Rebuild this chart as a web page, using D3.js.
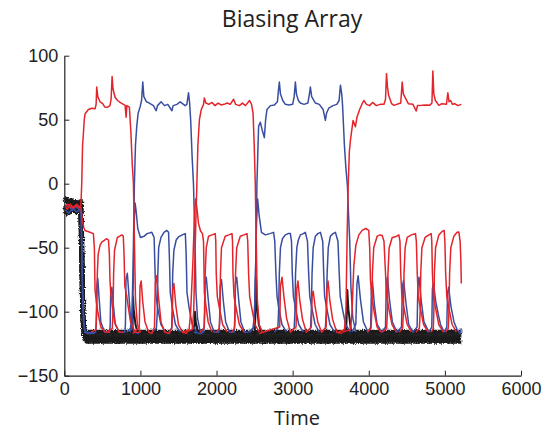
<!DOCTYPE html>
<html>
<head>
<meta charset="utf-8">
<script src="https://d3js.org/d3.v7.min.js"></script>
<style>
  html, body { margin: 0; padding: 0; background: #fff; }
  svg { display: block; }
</style>
</head>
<body>
<svg id="chart" width="552" height="433"></svg>
<script>
// Axis ticks
const xTicks = [0, 1000, 2000, 3000, 4000, 5000, 6000];
const yTicks = [-150, -100, -50, 0, 50, 100];

// Red units: winners (high state) and the cycling losers, [time, value]
const redTraces = [
  // winner, first epoch
  [[0,-17],[40,-20],[80,-16],[120,-19],[160,-16],[200,-18],[218,-17],[229,0],[240,30],[251,39],[262,50],[273,54.6],[317,58],[360,59],[405,58.6],[418,62],[426,75.5],[440,68],[470,64],[505,62.5],[530,60],[570,59.8],[600,61],[615,66],[628,83.8],[640,74],[667,67.5],[700,65],[733,63.6],[799,61.2],[812,52],[822,61],[855,59.8],[875,40],[893,15],[908,0],[920,-40],[935,-90],[960,-110],[1000,-116]],
  // winner, third epoch
  [[1600,-116],[1680,-114],[1700,-100],[1715,-60],[1730,-25],[1742,0],[1755,30],[1775,50],[1800,58],[1829,62],[1840,67],[1860,63],[1900,62],[1940,63.5],[1980,61],[2020,63],[2060,61.5],[2100,62],[2140,63],[2180,62],[2224,66],[2250,62],[2300,61],[2340,63],[2380,61],[2434,65],[2460,62],[2480,55],[2495,30],[2509,0],[2520,-40],[2535,-90],[2560,-110],[2600,-116]],
  // winner, fifth epoch
  [[3600,-116],[3680,-114],[3700,-100],[3716,-40],[3730,0],[3745,25],[3759,33.8],[3794,49.4],[3825,44.5],[3845,52],[3880,58],[3913,62.5],[3935,65],[3970,62],[4010,61],[4050,63.5],[4100,61],[4150,62],[4200,62],[4220,66],[4233,85.9],[4245,76],[4260,69.3],[4300,62.5],[4330,61.2],[4420,63],[4439,79.4],[4455,70],[4480,67],[4520,62.5],[4580,62],[4623,56.8],[4640,61],[4700,61.2],[4760,61.5],[4800,61.2],[4830,63],[4842,88],[4855,70],[4875,65],[4921,61.2],[4960,62.5],[5020,62],[5039,71],[5055,64],[5075,65],[5100,62],[5130,62.5],[5170,61],[5216,62]],
  // losers, first epoch
  [[0,-18],[50,-16],[100,-19],[150,-17],[200,-19],[218,-18],[235,-28],[255,-34],[272,-36.5],[320,-37.5],[382,-39],[395,-50],[404,-83],[420,-92],[440,-100],[480,-112],[540,-116],[600,-116]],
  [[350,-116],[415,-114],[425,-100],[434,-70],[445,-55],[470,-48],[492,-45.6],[530,-44],[558,-43],[580,-44],[592,-55],[600,-75],[610,-85],[630,-95],[660,-108],[720,-116],[780,-116]],
  [[560,-116],[630,-113],[640,-100],[648,-70],[660,-52],[697,-42],[730,-41],[755,-40],[775,-41],[785,-55],[795,-80],[821,-88],[840,-96],[870,-108],[930,-116],[1000,-116]],
  // small responses, second epoch
  [[900,-117],[985,-112],[995,-80],[1010,-76],[1030,-92],[1060,-108],[1110,-116],[1150,-117],[1185,-112],[1195,-78],[1210,-72],[1240,-90],[1270,-108],[1320,-116],[1380,-117],[1415,-112],[1425,-82],[1440,-78],[1465,-95],[1500,-110],[1550,-116],[1620,-117]],
  // losers, third epoch
  [[1550,-116],[1640,-114],[1660,-100],[1690,-60],[1710,-25],[1725,-12],[1740,-18],[1763,-31],[1790,-37],[1815,-39],[1829,-45],[1840,-85],[1860,-95],[1890,-108],[1940,-116]],
  [[1780,-116],[1835,-113],[1845,-100],[1851,-70],[1865,-50],[1895,-41],[1940,-40],[1983,-39],[1990,-45],[1996,-70],[2010,-88],[2040,-98],[2080,-110],[2140,-116]],
  [[2000,-116],[2035,-113],[2045,-100],[2052,-70],[2065,-50],[2114,-41],[2160,-40],[2203,-39],[2210,-45],[2216,-70],[2230,-88],[2260,-98],[2300,-110],[2360,-116]],
  [[2200,-116],[2235,-113],[2242,-100],[2250,-70],[2265,-50],[2312,-41],[2360,-40],[2400,-39],[2410,-45],[2421,-70],[2435,-88],[2465,-98],[2505,-110],[2560,-116]],
  // small responses, fourth epoch
  [[2560,-117],[2830,-112],[2840,-80],[2860,-73],[2885,-88],[2920,-105],[2970,-116],[3045,-112],[3055,-82],[3070,-76],[3095,-92],[3130,-106],[3180,-116],[3245,-112],[3255,-88],[3270,-84],[3295,-96],[3330,-108],[3380,-116],[3440,-112],[3450,-82],[3465,-76],[3490,-92],[3525,-106],[3580,-116],[3650,-117]],
  // losers, fifth epoch
  [[3650,-116],[3760,-114],[3780,-100],[3803,-65],[3830,-48],[3870,-40],[3913,-36.5],[3960,-35],[4000,-36.5],[4012,-50],[4022,-75],[4040,-88],[4070,-100],[4110,-112],[4160,-116]],
  [[3980,-116],[4030,-113],[4040,-100],[4048,-70],[4065,-50],[4110,-41],[4150,-40],[4176,-40.4],[4200,-45],[4220,-70],[4235,-88],[4265,-98],[4305,-110],[4360,-116]],
  [[4180,-116],[4235,-113],[4245,-100],[4252,-70],[4268,-50],[4308,-42],[4350,-41.5],[4395,-40],[4410,-45],[4420,-70],[4435,-88],[4465,-98],[4505,-110],[4560,-116]],
  [[4400,-116],[4445,-113],[4455,-100],[4463,-70],[4478,-50],[4505,-42],[4560,-40],[4614,-39],[4625,-45],[4637,-70],[4650,-88],[4680,-98],[4720,-110],[4780,-116]],
  [[4620,-116],[4665,-113],[4675,-100],[4683,-70],[4698,-50],[4740,-42],[4790,-40],[4820,-39],[4828,-45],[4836,-70],[4850,-88],[4880,-98],[4920,-110],[4980,-116]],
  [[4820,-116],[4848,-113],[4855,-100],[4862,-70],[4878,-50],[4921,-40],[4960,-37.5],[4990,-36.5],[5000,-45],[5010,-70],[5025,-88],[5055,-98],[5095,-110],[5150,-116]],
  [[5010,-116],[5045,-113],[5053,-100],[5062,-70],[5078,-50],[5118,-41],[5160,-38],[5184,-37.8],[5200,-45],[5210,-60],[5216,-78]]
];

// Blue units: winners (high state) and the cycling losers, [time, value]
const blueTraces = [
  [[0,-20],[60,-23],[110,-19],[160,-22],[210,-20],[222,-25],[235,-70],[248,-100],[265,-114],[300,-117],[400,-116]],
  [[0,-19],[55,-17],[105,-21],[155,-18],[205,-21],[222,-24],[238,-80],[255,-110],[280,-116],[400,-117]],
  // small responses, first epoch
  [[260,-116],[330,-117],[410,-116],[420,-110],[428,-80],[440,-74],[458,-90],[480,-108],[530,-116],[595,-116],[603,-110],[610,-84],[625,-81],[645,-95],[670,-110],[720,-116],[795,-116],[803,-110],[810,-75],[828,-70],[850,-88],[875,-108],[920,-116],[980,-117]],
  // winner, second epoch
  [[820,-116],[870,-113],[890,-100],[905,-60],[921,0],[935,30],[952,45],[970,55],[996,60],[1015,65],[1031,79.4],[1045,68],[1080,64],[1105,63.3],[1171,61],[1206,57],[1225,61],[1272,64],[1316,61],[1360,62],[1413,57],[1430,61],[1480,62],[1522,64],[1588,61],[1610,62],[1632,71],[1645,64],[1660,50],[1680,20],[1697,0],[1715,-40],[1730,-85],[1750,-105],[1780,-114],[1830,-116]],
  // losers, second epoch
  [[860,-116],[890,-112],[905,-80],[918,-30],[930,-15],[945,-22],[965,-35],[1000,-42],[1050,-41],[1088,-39],[1150,-38],[1180,-42],[1193,-70],[1205,-88],[1230,-98],[1270,-110],[1330,-116]],
  [[1150,-116],[1210,-113],[1222,-100],[1229,-70],[1240,-50],[1270,-42],[1310,-38],[1347,-36.5],[1370,-38],[1382,-60],[1392,-85],[1420,-97],[1460,-110],[1520,-116]],
  [[1370,-116],[1410,-113],[1418,-100],[1424,-70],[1440,-52],[1470,-44],[1500,-41.6],[1550,-40],[1590,-39],[1601,-55],[1612,-85],[1640,-97],[1680,-110],[1740,-116]],
  // small responses, third epoch
  [[1700,-116],[1790,-117],[1830,-116],[1840,-110],[1848,-78],[1865,-73],[1890,-90],[1920,-108],[1970,-116],[2030,-116],[2040,-110],[2048,-80],[2065,-75],[2090,-92],[2120,-108],[2170,-116],[2230,-116],[2240,-110],[2248,-78],[2265,-73],[2290,-90],[2320,-108],[2370,-116],[2420,-116]],
  // winner, fourth epoch
  [[2420,-116],[2480,-113],[2500,-100],[2515,-60],[2531,0],[2545,30],[2553,45],[2575,48],[2600,42],[2628,36],[2645,50],[2663,58],[2707,61],[2760,61.5],[2800,64],[2812,72],[2825,79.4],[2840,70],[2870,65],[2904,62],[2950,61.5],[3000,62],[3020,68],[3036,79.4],[3050,70],[3075,65],[3101,63],[3150,62],[3200,63],[3220,70],[3233,75.5],[3250,68],[3299,63],[3350,62],[3400,58],[3430,49.5],[3445,55],[3474,59],[3530,61],[3580,62],[3610,65],[3628,77],[3645,70],[3655,62],[3663,52],[3680,30],[3700,12],[3720,-2],[3735,-25],[3750,-45],[3765,-80],[3790,-105],[3830,-116]],
  // losers, fourth epoch
  [[2440,-116],[2490,-112],[2510,-80],[2525,-30],[2540,-12],[2560,-25],[2590,-38],[2641,-40],[2700,-39],[2750,-38],[2765,-45],[2780,-70],[2795,-88],[2820,-98],[2860,-110],[2920,-116]],
  [[2760,-116],[2805,-113],[2815,-100],[2825,-70],[2840,-50],[2866,-43],[2904,-40],[2940,-39],[2970,-39],[2985,-45],[2995,-70],[3010,-88],[3040,-98],[3080,-110],[3140,-116]],
  [[2970,-116],[3020,-113],[3030,-100],[3038,-70],[3055,-50],[3075,-44],[3101,-40],[3140,-39],[3167,-38],[3195,-45],[3210,-70],[3225,-88],[3255,-98],[3295,-110],[3350,-116]],
  [[3180,-116],[3235,-113],[3245,-100],[3255,-70],[3270,-50],[3299,-41],[3330,-39],[3365,-38],[3395,-45],[3408,-70],[3420,-88],[3450,-98],[3490,-110],[3550,-116]],
  [[3380,-116],[3430,-113],[3442,-100],[3453,-70],[3468,-50],[3496,-41],[3530,-39],[3562,-38],[3595,-45],[3612,-70],[3625,-88],[3655,-98],[3695,-110],[3760,-116]],
  // small responses, fifth epoch
  [[3780,-116],[3830,-110],[3845,-78],[3860,-72],[3890,-90],[3930,-108],[3990,-116],[4025,-112],[4035,-82],[4048,-76],[4075,-95],[4110,-110],[4170,-116],[4220,-112],[4230,-78],[4245,-73],[4275,-92],[4310,-108],[4370,-116],[4430,-112],[4442,-80],[4458,-75.5],[4490,-94],[4525,-110],[4580,-116],[4635,-112],[4645,-80],[4660,-73],[4690,-92],[4725,-108],[4790,-116],[4828,-112],[4836,-82],[4850,-78],[4880,-92],[4920,-104],[4943,-110],[4990,-116],[5025,-112],[5035,-85],[5050,-81],[5080,-96],[5120,-108],[5160,-114],[5200,-117],[5216,-113]]
];

// Black (unbiased) units: noisy resting band
const blackBand = [
  [[0,-14],[30,-12],[60,-16],[90,-13],[120,-17],[150,-14],[180,-16],[215,-14],[225,-30],[236,-80],[248,-108],[262,-115],[300,-116],[5216,-116]],
  [[0,-18],[40,-21],[80,-16],[120,-20],[160,-17],[200,-21],[218,-19],[228,-45],[240,-95],[252,-113],[270,-119.5],[5216,-119.5]],
  [[0,-21],[50,-23],[100,-20],[150,-22],[215,-21],[230,-60],[245,-105],[260,-117],[290,-123],[5216,-123]]
];
// Black transients at each switch of the winner
const blackTransients = [
  [[880,-119],[896,-117],[902,-88],[912,-98],[935,-110],[970,-118]],
  [[1700,-119],[1710,-112],[1716,-100],[1728,-108],[1760,-117]],
  [[2500,-119],[2512,-100],[2517,-73],[2528,-92],[2555,-110],[2600,-118]],
  [[3700,-119],[3712,-100],[3718,-83],[3732,-98],[3765,-114],[3810,-119]]
];

const svg = d3.select("#chart");
const x = d3.scaleLinear().domain([0, 6000]).range([64.3, 521]);
const y = d3.scaleLinear().domain([-150, 100]).range([375.7, 55.7]);

// grainy texture for the noisy resting band
const defs = svg.append("defs");
const f = defs.append("filter").attr("id", "grain")
  .attr("x", "-5%").attr("y", "-20%").attr("width", "110%").attr("height", "140%");
f.append("feTurbulence").attr("type", "fractalNoise")
  .attr("baseFrequency", "0.9 0.6").attr("numOctaves", 2).attr("seed", 4).attr("result", "n");
f.append("feDisplacementMap").attr("in", "SourceGraphic").attr("in2", "n")
  .attr("scale", 4).attr("xChannelSelector", "R").attr("yChannelSelector", "G");

const line = d3.line().x(d => x(d[0])).y(d => y(d[1]));

const gBlack = svg.append("g").attr("filter", "url(#grain)");
gBlack.selectAll("path").data(blackBand).join("path")
  .attr("d", line).attr("fill", "none")
  .attr("stroke", "#1a1a1a").attr("stroke-width", 5)
  .attr("stroke-linejoin", "round");

svg.append("g").selectAll("path").data(blackTransients).join("path")
  .attr("d", line).attr("fill", "none")
  .attr("stroke", "#1a1a1a").attr("stroke-width", 2)
  .attr("stroke-linejoin", "round");

svg.append("g").selectAll("path").data(blueTraces).join("path")
  .attr("d", line).attr("fill", "none")
  .attr("stroke", "#3a4ea0").attr("stroke-width", 1.5)
  .attr("stroke-linejoin", "round");

svg.append("g").selectAll("path").data(redTraces).join("path")
  .attr("d", line).attr("fill", "none")
  .attr("stroke", "#e3242b").attr("stroke-width", 1.5)
  .attr("stroke-linejoin", "round");

// Axes (inward ticks, left and bottom only)
const tickFont = "'Liberation Sans', Arial, sans-serif";
const xAxis = svg.append("g").attr("transform", `translate(0,${y(-150)})`)
  .call(d3.axisBottom(x).tickValues(xTicks).tickSize(-5).tickSizeOuter(0).tickPadding(7).tickFormat(d3.format("d")));
const yAxis = svg.append("g").attr("transform", `translate(${x(0)},0)`)
  .call(d3.axisLeft(y).tickValues(yTicks).tickSize(-5).tickSizeOuter(0).tickPadding(6)
    .tickFormat(d => d < 0 ? "\u2212" + Math.abs(d) : String(d)));
[xAxis, yAxis].forEach(g => {
  g.select(".domain").attr("stroke", "#222").attr("stroke-width", 1.2);
  g.selectAll(".tick line").attr("stroke", "#222").attr("stroke-width", 1);
  g.selectAll(".tick text").attr("fill", "#222").style("font-family", tickFont).style("font-size", "18px");
});

svg.append("text").attr("x", 292).attr("y", 27).attr("text-anchor", "middle")
  .style("font-family", "'Open Sans', sans-serif").style("font-size", "23px").attr("fill", "#222")
  .text("Biasing Array");
svg.append("text").attr("x", 297).attr("y", 425).attr("text-anchor", "middle")
  .style("font-family", "'Open Sans', sans-serif").style("font-size", "20px").attr("fill", "#222")
  .text("Time");
</script>
</body>
</html>
